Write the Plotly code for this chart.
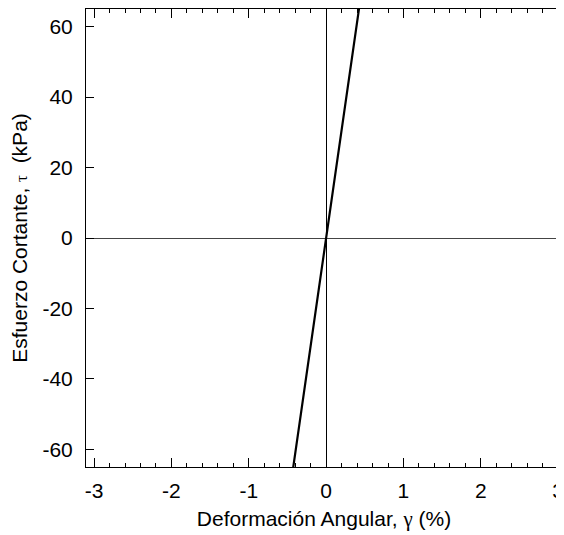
import plotly.graph_objects as go

# Data: shear strain (%) vs shear stress (kPa), thin hysteresis loop
strain = [-0.50, -0.25, 0.00, 0.25, 0.50, 0.25, 0.00, -0.25, -0.50]
stress = [-76.5, -38.0, 0.6, 38.8, 76.5, 37.6, -0.6, -38.8, -76.5]

x_ticks = [-3, -2, -1, 0, 1, 2, 3]
y_ticks = [-60, -40, -20, 0, 20, 40, 60]
x_range = [-3.105, 3.05]
y_range = [-65, 65]

fig = go.Figure()
fig.add_trace(go.Scatter(x=strain, y=stress, mode="lines",
                         line=dict(color="black", width=2.2),
                         showlegend=False, hoverinfo="skip"))
# invisible trace to anchor the right-hand tick axis
fig.add_trace(go.Scatter(x=[x_range[0]], y=[y_range[0]], yaxis="y2", mode="markers",
                         marker=dict(opacity=0), showlegend=False, hoverinfo="skip"))

font = dict(family="Liberation Sans, Arial, sans-serif", size=21, color="black")

fig.update_layout(
    width=556, height=527,
    margin=dict(l=78, r=0, t=1, b=68),
    paper_bgcolor="white", plot_bgcolor="white",
    font=font,
    xaxis=dict(
        range=x_range,
        tickvals=x_ticks, ticktext=[str(v) for v in x_ticks],
        ticks="inside", ticklen=9, tickwidth=1, tickcolor="black",
        minor=dict(dtick=0.2, tick0=0, ticks="inside", ticklen=4, tickcolor="black", tickwidth=1),
        showline=True, linecolor="black", linewidth=1, mirror="ticks",
        showgrid=False,
        zeroline=True, zerolinecolor="black", zerolinewidth=1,
        title=dict(text="Deformación Angular, <span style='font-family:Liberation Serif, Times New Roman, serif'>γ</span> (%)",
                   font=dict(size=21), standoff=10),
        tickfont=dict(size=21),
        ticklabelstandoff=5,
        ticklabeloverflow="allow",
    ),
    yaxis=dict(
        range=y_range,
        tickvals=y_ticks, ticktext=[str(v) for v in y_ticks],
        ticks="inside", ticklen=8, tickwidth=1, tickcolor="black",
        showline=True, linecolor="black", linewidth=1, mirror=False,
        showgrid=False,
        zeroline=True, zerolinecolor="#444444", zerolinewidth=1,
        title=dict(text="Esfuerzo Cortante, <span style='font-family:Liberation Serif, Times New Roman, serif; font-size:17px'>τ</span>  (kPa)",
                   font=dict(size=21), standoff=12),
        tickfont=dict(size=21),
        ticklabelstandoff=8,
    ),
    yaxis2=dict(
        range=y_range, overlaying="y", side="right",
        tickvals=y_ticks, showticklabels=False,
        ticks="inside", ticklen=6, tickwidth=1, tickcolor="black",
        showline=False, showgrid=False, zeroline=False,
    ),
)

fig.write_html("out.html")
